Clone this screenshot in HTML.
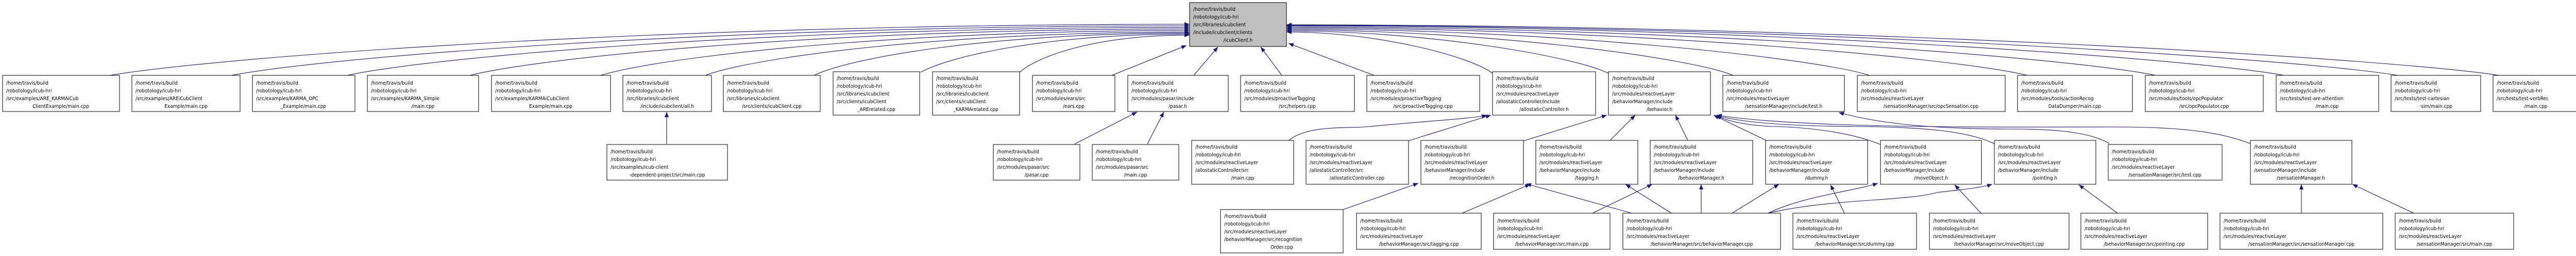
<!DOCTYPE html>
<html><head><meta charset="utf-8"><style>
html,body{margin:0;padding:0;background:#fff;}
svg{display:block;}
text{font-family:"DejaVu Sans Condensed","DejaVu Sans","Liberation Sans",sans-serif;font-size:10px;font-stretch:condensed;fill:#000;}
.n{fill:#fff;stroke:#000;stroke-width:1;}
.e{fill:none;stroke:#191970;stroke-width:1.1;}
.m{text-anchor:middle;}
</style></head><body>
<svg width="5017" height="496" viewBox="0 0 5017 496" xmlns="http://www.w3.org/2000/svg">
<defs><marker id="a" markerWidth="10" markerHeight="8" refX="10" refY="4" orient="auto" markerUnits="userSpaceOnUse"><path d="M0,0 L10,4 L0,8z" fill="#191970"/></marker></defs>

<g class="e" marker-end="url(#a)">
<path d="M213,146 C423,111 1257,47 2309,47"/>
<path d="M449,146 C635,111 1375,50 2309,50"/>
<path d="M674,146 C837,111 1486,53 2309,53"/>
<path d="M912,146 C1052,111 1605,56 2309,56"/>
<path d="M1166,146 C1280,111 1731,59 2309,59"/>
<path d="M1369,146 C1463,111 1831,62 2309,62"/>
<path d="M1580,146 C1653,111 1925,64 2309,64"/>
<path d="M1787,140 C1839,111 2022,66 2309,66"/>
<path d="M1979,140 C2012,111 2120,68 2309,68"/>
<path d="M2158,146 L2303,88"/>
<path d="M2317,146 L2364,91"/>
<path d="M2488,146 L2447,91"/>
<path d="M2667,146 L2501,84"/>
<path d="M2897,142 C2857,111 2680,62 2497,62"/>
<path d="M3122,142 C3060,111 2780,60 2497,60"/>
<path d="M3364,146 C3278,111 2880,58 2497,58"/>
<path d="M3629,146 C3516,111 3000,56 2497,56"/>
<path d="M3935,146 C3791,111 3140,54 2497,54"/>
<path d="M4184,146 C4015,111 3250,52 2497,52"/>
<path d="M4433,146 C4239,111 3360,50 2497,50"/>
<path d="M4654,146 C4438,111 3460,49 2497,49"/>
<path d="M4851,146 C4616,111 3550,48 2497,48"/>
</g>
<g class="e" marker-end="url(#a)">
<path d="M1294,279 L1294,217"/>
<path d="M2086,279 L2207,217"/>
<path d="M2227,279 L2259,217"/>
<path d="M2500,273 C2540,240 2620,250 2660,245 C2760,235 2860,230 2886,223"/>
<path d="M2733,273 L2894,223"/>
<path d="M2957,273 L3119,223"/>
<path d="M3125,272 L3174,223"/>
<path d="M3276,272 L3252,223"/>
<path d="M3428,272 L3326,223"/>
<path d="M3650,280 C3590,255 3500,246 3440,245 C3390,243 3355,235 3330,224"/>
<path d="M3874,280 C3820,252 3720,246 3600,245 C3450,244 3380,236 3331,224"/>
<path d="M4094,278 C4060,258 4000,250 3910,250 C3750,250 3650,240 3569,218"/>
<path d="M4372,280 C4300,250 4200,246 4100,246 C3900,246 3500,250 3332,223"/>
</g>
<g class="e" marker-end="url(#a)">
<path d="M2607,406 L2753,355"/>
<path d="M2838,413 L2970,357"/>
<path d="M3167,413 L2962,356"/>
<path d="M3091,413 L3207,357"/>
<path d="M3244,413 L3155,357"/>
<path d="M3302,413 L3302,357"/>
<path d="M3362,413 L3453,357"/>
<path d="M3432,413 C3500,380 3600,370 3645,355"/>
<path d="M3432,413 C3550,385 3700,390 3760,373 C3800,368 3840,365 3867,357"/>
<path d="M3580,413 L3553,358"/>
<path d="M3845,413 L3794,358"/>
<path d="M4110,413 L4035,358"/>
<path d="M4467,413 L4467,357"/>
<path d="M4685,413 L4566,357"/>
</g>

<rect x="2309" y="5" width="188" height="85" fill="#bfbfbf" stroke="#000"/>
<text x="2316" y="21">/home/travis/build</text><text x="2316" y="36">/robotology/icub-hri</text><text x="2316" y="51">/src/libraries/icubclient</text><text x="2316" y="66">/include/icubclient/clients</text><text class="m" x="2403" y="81">/icubClient.h</text>

<rect class="n" x="5" y="146" width="227" height="70"/><text x="12" y="164">/home/travis/build</text><text x="12" y="179">/robotology/icub-hri</text><text x="12" y="194">/src/examples/ARE_KARMAiCub</text><text class="m" x="118" y="209">ClientExample/main.cpp</text>
<rect class="n" x="256" y="146" width="210" height="70"/><text x="263" y="164">/home/travis/build</text><text x="263" y="179">/robotology/icub-hri</text><text x="263" y="194">/src/examples/AREiCubClient</text><text class="m" x="361" y="209">Example/main.cpp</text>
<rect class="n" x="490" y="146" width="199" height="70"/><text x="497" y="164">/home/travis/build</text><text x="497" y="179">/robotology/icub-hri</text><text x="497" y="194">/src/examples/KARMA_OPC</text><text class="m" x="589" y="209">_Example/main.cpp</text>
<rect class="n" x="713" y="146" width="216" height="70"/><text x="720" y="164">/home/travis/build</text><text x="720" y="179">/robotology/icub-hri</text><text x="720" y="194">/src/examples/KARMA_Simple</text><text class="m" x="821" y="209">/main.cpp</text>
<rect class="n" x="954" y="146" width="231" height="70"/><text x="961" y="164">/home/travis/build</text><text x="961" y="179">/robotology/icub-hri</text><text x="961" y="194">/src/examples/KARMAiCubClient</text><text class="m" x="1069" y="209">Example/main.cpp</text>
<rect class="n" x="1209" y="146" width="172" height="70"/><text x="1216" y="164">/home/travis/build</text><text x="1216" y="179">/robotology/icub-hri</text><text x="1216" y="194">/src/libraries/icubclient</text><text class="m" x="1295" y="209">/include/icubclient/all.h</text>
<rect class="n" x="1404" y="146" width="188" height="70"/><text x="1411" y="164">/home/travis/build</text><text x="1411" y="179">/robotology/icub-hri</text><text x="1411" y="194">/src/libraries/icubclient</text><text class="m" x="1498" y="209">/src/clients/icubClient.cpp</text>
<rect class="n" x="1617" y="139" width="168" height="84"/><text x="1624" y="155">/home/travis/build</text><text x="1624" y="170">/robotology/icub-hri</text><text x="1624" y="185">/src/libraries/icubclient</text><text x="1624" y="200">/src/clients/icubClient</text><text class="m" x="1701" y="215">_ARErelated.cpp</text>
<rect class="n" x="1810" y="139" width="169" height="84"/><text x="1817" y="155">/home/travis/build</text><text x="1817" y="170">/robotology/icub-hri</text><text x="1817" y="185">/src/libraries/icubclient</text><text x="1817" y="200">/src/clients/icubClient</text><text class="m" x="1894" y="215">_KARMArelated.cpp</text>
<rect class="n" x="2004" y="146" width="160" height="70"/><text x="2011" y="164">/home/travis/build</text><text x="2011" y="179">/robotology/icub-hri</text><text x="2011" y="194">/src/modules/ears/src</text><text class="m" x="2084" y="209">/ears.cpp</text>
<rect class="n" x="2189" y="146" width="195" height="70"/><text x="2196" y="164">/home/travis/build</text><text x="2196" y="179">/robotology/icub-hri</text><text x="2196" y="194">/src/modules/pasar/include</text><text class="m" x="2286" y="209">/pasar.h</text>
<rect class="n" x="2408" y="146" width="221" height="70"/><text x="2415" y="164">/home/travis/build</text><text x="2415" y="179">/robotology/icub-hri</text><text x="2415" y="194">/src/modules/proactiveTagging</text><text class="m" x="2518" y="209">/src/helpers.cpp</text>
<rect class="n" x="2653" y="146" width="219" height="70"/><text x="2660" y="164">/home/travis/build</text><text x="2660" y="179">/robotology/icub-hri</text><text x="2660" y="194">/src/modules/proactiveTagging</text><text class="m" x="2762" y="209">/src/proactiveTagging.cpp</text>
<rect class="n" x="2897" y="139" width="200" height="84"/><text x="2904" y="155">/home/travis/build</text><text x="2904" y="170">/robotology/icub-hri</text><text x="2904" y="185">/src/modules/reactiveLayer</text><text x="2904" y="200">/allostaticController/include</text><text class="m" x="2997" y="215">/allostaticController.h</text>
<rect class="n" x="3122" y="139" width="198" height="84"/><text x="3129" y="155">/home/travis/build</text><text x="3129" y="170">/robotology/icub-hri</text><text x="3129" y="185">/src/modules/reactiveLayer</text><text x="3129" y="200">/behaviorManager/include</text><text class="m" x="3221" y="215">/behavior.h</text>
<rect class="n" x="3344" y="146" width="236" height="70"/><text x="3351" y="164">/home/travis/build</text><text x="3351" y="179">/robotology/icub-hri</text><text x="3351" y="194">/src/modules/reactiveLayer</text><text class="m" x="3462" y="209">/sensationManager/include/test.h</text>
<rect class="n" x="3605" y="146" width="287" height="70"/><text x="3612" y="164">/home/travis/build</text><text x="3612" y="179">/robotology/icub-hri</text><text x="3612" y="194">/src/modules/reactiveLayer</text><text class="m" x="3748" y="209">/sensationManager/src/opcSensation.cpp</text>
<rect class="n" x="3916" y="146" width="223" height="70"/><text x="3923" y="164">/home/travis/build</text><text x="3923" y="179">/robotology/icub-hri</text><text x="3923" y="194">/src/modules/tools/actionRecog</text><text class="m" x="4027" y="209">DataDumper/main.cpp</text>
<rect class="n" x="4164" y="146" width="229" height="70"/><text x="4171" y="164">/home/travis/build</text><text x="4171" y="179">/robotology/icub-hri</text><text x="4171" y="194">/src/modules/tools/opcPopulator</text><text class="m" x="4278" y="209">/src/opcPopulator.cpp</text>
<rect class="n" x="4418" y="146" width="199" height="70"/><text x="4425" y="164">/home/travis/build</text><text x="4425" y="179">/robotology/icub-hri</text><text x="4425" y="194">/src/tests/test-are-attention</text><text class="m" x="4517" y="209">/main.cpp</text>
<rect class="n" x="4641" y="146" width="174" height="70"/><text x="4648" y="164">/home/travis/build</text><text x="4648" y="179">/robotology/icub-hri</text><text x="4648" y="194">/src/tests/test-cartesian</text><text class="m" x="4728" y="209">-sim/main.cpp</text>
<rect class="n" x="4839" y="146" width="166" height="70"/><text x="4846" y="164">/home/travis/build</text><text x="4846" y="179">/robotology/icub-hri</text><text x="4846" y="194">/src/tests/test-verbRec</text><text class="m" x="4922" y="209">/main.cpp</text>

<rect class="n" x="1178" y="280" width="234" height="69"/><text x="1185" y="297">/home/travis/build</text><text x="1185" y="312">/robotology/icub-hri</text><text x="1185" y="327">/src/examples/icub-client</text><text class="m" x="1295" y="342">-dependent-project/src/main.cpp</text>
<rect class="n" x="1928" y="280" width="168" height="69"/><text x="1935" y="297">/home/travis/build</text><text x="1935" y="312">/robotology/icub-hri</text><text x="1935" y="327">/src/modules/pasar/src</text><text class="m" x="2012" y="342">/pasar.cpp</text>
<rect class="n" x="2120" y="280" width="168" height="69"/><text x="2127" y="297">/home/travis/build</text><text x="2127" y="312">/robotology/icub-hri</text><text x="2127" y="327">/src/modules/pasar/src</text><text class="m" x="2204" y="342">/main.cpp</text>
<rect class="n" x="2313" y="272" width="198" height="85"/><text x="2320" y="288">/home/travis/build</text><text x="2320" y="303">/robotology/icub-hri</text><text x="2320" y="318">/src/modules/reactiveLayer</text><text x="2320" y="333">/allostaticController/src</text><text class="m" x="2412" y="348">/main.cpp</text>
<rect class="n" x="2535" y="272" width="199" height="85"/><text x="2542" y="288">/home/travis/build</text><text x="2542" y="303">/robotology/icub-hri</text><text x="2542" y="318">/src/modules/reactiveLayer</text><text x="2542" y="333">/allostaticController/src</text><text class="m" x="2634" y="348">/allostaticController.cpp</text>
<rect class="n" x="2758" y="272" width="199" height="85"/><text x="2765" y="288">/home/travis/build</text><text x="2765" y="303">/robotology/icub-hri</text><text x="2765" y="318">/src/modules/reactiveLayer</text><text x="2765" y="333">/behaviorManager/include</text><text class="m" x="2857" y="348">/recognitionOrder.h</text>
<rect class="n" x="2981" y="272" width="198" height="85"/><text x="2988" y="288">/home/travis/build</text><text x="2988" y="303">/robotology/icub-hri</text><text x="2988" y="318">/src/modules/reactiveLayer</text><text x="2988" y="333">/behaviorManager/include</text><text class="m" x="3080" y="348">/tagging.h</text>
<rect class="n" x="3203" y="272" width="199" height="85"/><text x="3210" y="288">/home/travis/build</text><text x="3210" y="303">/robotology/icub-hri</text><text x="3210" y="318">/src/modules/reactiveLayer</text><text x="3210" y="333">/behaviorManager/include</text><text class="m" x="3302" y="348">/behaviorManager.h</text>
<rect class="n" x="3427" y="272" width="198" height="85"/><text x="3434" y="288">/home/travis/build</text><text x="3434" y="303">/robotology/icub-hri</text><text x="3434" y="318">/src/modules/reactiveLayer</text><text x="3434" y="333">/behaviorManager/include</text><text class="m" x="3526" y="348">/dummy.h</text>
<rect class="n" x="3650" y="272" width="196" height="85"/><text x="3657" y="288">/home/travis/build</text><text x="3657" y="303">/robotology/icub-hri</text><text x="3657" y="318">/src/modules/reactiveLayer</text><text x="3657" y="333">/behaviorManager/include</text><text class="m" x="3748" y="348">/moveObject.h</text>
<rect class="n" x="3871" y="272" width="197" height="85"/><text x="3878" y="288">/home/travis/build</text><text x="3878" y="303">/robotology/icub-hri</text><text x="3878" y="318">/src/modules/reactiveLayer</text><text x="3878" y="333">/behaviorManager/include</text><text class="m" x="3969" y="348">/pointing.h</text>
<rect class="n" x="4092" y="280" width="221" height="69"/><text x="4099" y="297">/home/travis/build</text><text x="4099" y="312">/robotology/icub-hri</text><text x="4099" y="327">/src/modules/reactiveLayer</text><text class="m" x="4202" y="342">/sensationManager/src/test.cpp</text>
<rect class="n" x="4368" y="272" width="197" height="85"/><text x="4375" y="288">/home/travis/build</text><text x="4375" y="303">/robotology/icub-hri</text><text x="4375" y="318">/src/modules/reactiveLayer</text><text x="4375" y="333">/sensationManager/include</text><text class="m" x="4466" y="348">/sensationManager.h</text>

<rect class="n" x="2369" y="406" width="238" height="84"/><text x="2376" y="422">/home/travis/build</text><text x="2376" y="437">/robotology/icub-hri</text><text x="2376" y="452">/src/modules/reactiveLayer</text><text x="2376" y="467">/behaviorManager/src/recognition</text><text class="m" x="2488" y="482">Order.cpp</text>
<rect class="n" x="2633" y="413" width="242" height="70"/><text x="2640" y="431">/home/travis/build</text><text x="2640" y="446">/robotology/icub-hri</text><text x="2640" y="461">/src/modules/reactiveLayer</text><text class="m" x="2754" y="476">/behaviorManager/src/tagging.cpp</text>
<rect class="n" x="2899" y="413" width="226" height="70"/><text x="2906" y="431">/home/travis/build</text><text x="2906" y="446">/robotology/icub-hri</text><text x="2906" y="461">/src/modules/reactiveLayer</text><text class="m" x="3012" y="476">/behaviorManager/src/main.cpp</text>
<rect class="n" x="3150" y="413" width="306" height="70"/><text x="3157" y="431">/home/travis/build</text><text x="3157" y="446">/robotology/icub-hri</text><text x="3157" y="461">/src/modules/reactiveLayer</text><text class="m" x="3303" y="476">/behaviorManager/src/behaviorManager.cpp</text>
<rect class="n" x="3480" y="413" width="240" height="70"/><text x="3487" y="431">/home/travis/build</text><text x="3487" y="446">/robotology/icub-hri</text><text x="3487" y="461">/src/modules/reactiveLayer</text><text class="m" x="3600" y="476">/behaviorManager/src/dummy.cpp</text>
<rect class="n" x="3745" y="413" width="271" height="70"/><text x="3752" y="431">/home/travis/build</text><text x="3752" y="446">/robotology/icub-hri</text><text x="3752" y="461">/src/modules/reactiveLayer</text><text class="m" x="3880" y="476">/behaviorManager/src/moveObject.cpp</text>
<rect class="n" x="4039" y="413" width="246" height="70"/><text x="4046" y="431">/home/travis/build</text><text x="4046" y="446">/robotology/icub-hri</text><text x="4046" y="461">/src/modules/reactiveLayer</text><text class="m" x="4162" y="476">/behaviorManager/src/pointing.cpp</text>
<rect class="n" x="4309" y="413" width="316" height="70"/><text x="4316" y="431">/home/travis/build</text><text x="4316" y="446">/robotology/icub-hri</text><text x="4316" y="461">/src/modules/reactiveLayer</text><text class="m" x="4467" y="476">/sensationManager/src/sensationManager.cpp</text>
<rect class="n" x="4649" y="413" width="230" height="70"/><text x="4656" y="431">/home/travis/build</text><text x="4656" y="446">/robotology/icub-hri</text><text x="4656" y="461">/src/modules/reactiveLayer</text><text class="m" x="4764" y="476">/sensationManager/src/main.cpp</text>
</svg>
</body></html>
